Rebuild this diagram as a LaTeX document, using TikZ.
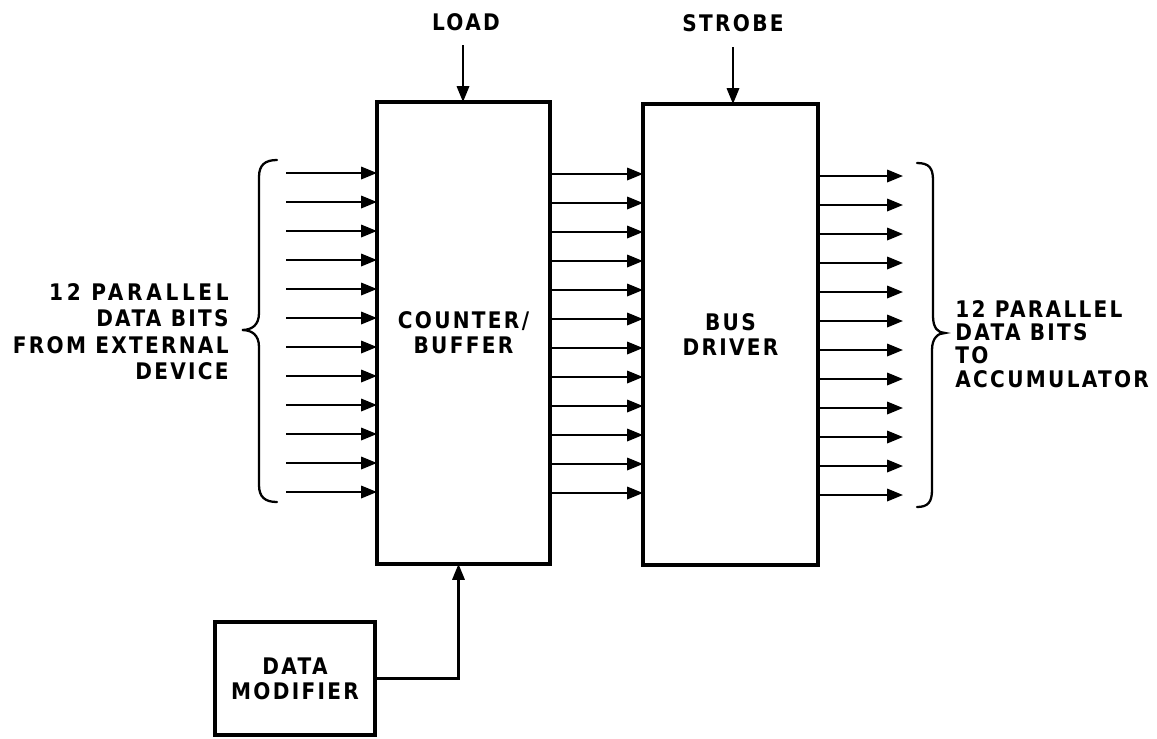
\documentclass[tikz,border=0pt]{standalone}
\usepackage{fontspec}
\newfontfamily\lbl{DejaVu Sans}[LetterSpace=10,FakeStretch=0.88]
\usetikzlibrary{arrows.meta}
\tikzset{
  blk/.style={draw,line width=2.2pt,inner sep=0pt,outer sep=0pt,align=center,
    font=\lbl\bfseries\fontsize{13}{14.2}\selectfont},
  arr/.style={line width=1.3pt,-{Triangle[length=9pt,width=7pt]}},
  lab/.style={inner sep=0pt,font=\lbl\bfseries\fontsize{13}{14.2}\selectfont},
  brc/.style={line width=1.3pt,line cap=round}
}
\begin{document}
\begin{tikzpicture}[x=0.02cm,y=-0.02cm]
\useasboundingbox (0,0) rectangle (1157,738);
% blocks
\node[blk,minimum width=173*0.02cm,minimum height=462*0.02cm] (cb) at (463.5,333) {COUNTER/\\BUFFER};
\node[blk,minimum width=175*0.02cm,minimum height=461*0.02cm] (bd) at (730.5,334.5) {BUS\\DRIVER};
\node[blk,minimum width=160*0.02cm,minimum height=113*0.02cm] (dm) at (295,678.5) {DATA\\MODIFIER};
% control labels
\node[lab] (load) at (466,22) {LOAD};
\node[lab] (strobe) at (733,23) {STROBE};
\coordinate (loadin) at (463,45);
\coordinate (strobein) at (733,47);
\draw[arr] (loadin) -- (loadin |- cb.north);
\draw[arr] (strobein) -- (strobein |- bd.north);
% modifier connector
\draw[arr] (dm.east) -| ([xshift=-0.1cm]cb.south);
% data lines
\foreach \i in {0,...,11}{
  \coordinate (in\i) at (286,{173+29*\i});
  \draw[arr] (in\i) -- (in\i -| cb.west);
  \coordinate (m\i) at (550,{174+29*\i});
  \draw[arr] (cb.east |- m\i) -- (bd.west |- m\i);
  \coordinate (out\i) at (903,{176+29*\i});
  \draw[arr] (bd.east |- out\i) -- (out\i);
}
% braces
\draw[brc] (277,160) .. controls (265,160) and (259,165) .. (259,177) -- (259,313)
  .. controls (259,325) and (252,330) .. (242,330)
  .. controls (252,330) and (259,335) .. (259,347) -- (259,485)
  .. controls (259,497) and (265,502) .. (277,502);
\draw[brc] (917,163) .. controls (929,163) and (933,168) .. (933,180) -- (933,316)
  .. controls (933,328) and (938,333) .. (945,333)
  .. controls (938,333) and (932,338) .. (932,350) -- (932,490)
  .. controls (932,502) and (928,507) .. (917,507);
% side labels
\node[lab,anchor=east,align=right,font=\lbl\bfseries\fontsize{13}{15}\selectfont] (srcl) at (229,331.5)
  {{\addfontfeature{LetterSpace=16}12 PARALLEL}\\DATA BITS\\FROM EXTERNAL\\DEVICE};
\node[lab,anchor=west,align=left,font=\lbl\bfseries\fontsize{13}{13.2}\selectfont] (dstl) at (955,344)
  {12 PARALLEL\\DATA BITS\\TO\\ACCUMULATOR};
\end{tikzpicture}
\end{document}
